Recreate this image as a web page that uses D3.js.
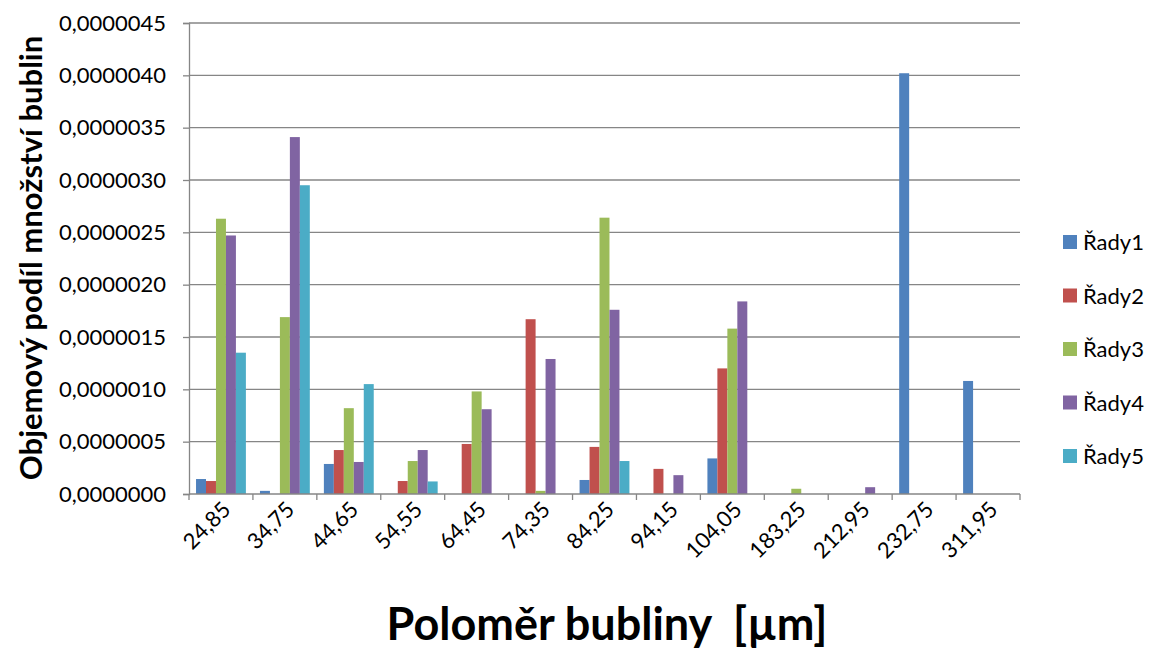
<!DOCTYPE html>
<html>
<head>
<meta charset="utf-8">
<script src="https://cdn.jsdelivr.net/npm/d3@7"></script>
<style>
  body { margin: 0; background: #fff; }
  text { font-family: Lato, "Open Sans", sans-serif; fill: #000; white-space: pre; }
</style>
</head>
<body>
<div id="chart"></div>
<script>
let categories = ["24,85", "34,75", "44,65", "54,55", "64,45", "74,35", "84,25", "94,15", "104,05", "183,25", "212,95", "232,75", "311,95"];
let seriesNames = ["Řady1", "Řady2", "Řady3", "Řady4", "Řady5"];
let rady1 = [0.143, 0.03, 0.287, 0, 0, 0, 0.134, 0, 0.34, 0, 0, 4.02, 1.08];
let rady2 = [0.124, 0, 0.42, 0.124, 0.478, 1.67, 0.45, 0.24, 1.2, 0, 0, 0, 0];
let rady3 = [2.63, 1.69, 0.82, 0.315, 0.98, 0.03, 2.64, 0, 1.58, 0.05, 0, 0, 0];
let rady4 = [2.47, 3.41, 0.306, 0.42, 0.81, 1.29, 1.76, 0.18, 1.84, 0, 0.065, 0, 0];
let rady5 = [1.35, 2.95, 1.05, 0.12, 0, 0, 0.315, 0, 0, 0, 0, 0, 0];
let yTicks = [0, 0.5, 1, 1.5, 2, 2.5, 3, 3.5, 4, 4.5];

let colors = ["#4f81bd", "#c0504d", "#9bbb59", "#8064a2", "#4bacc6"];
let allSeries = [rady1, rady2, rady3, rady4, rady5];

let width = 1159,
    height = 650;
let margin = {left: 189, right: 139, top: 23, bottom: 156};

let svg = d3.select("#chart")
    .append("svg")
    .attr("width", width)
    .attr("height", height);

let x0 = d3.scaleBand()
    .domain(categories)
    .range([margin.left, width - margin.right])
    .paddingInner(0.22)
    .paddingOuter(0.11);

let x1 = d3.scaleBand()
    .domain(seriesNames)
    .range([0, x0.bandwidth()]);

let y = d3.scaleLinear()
    .domain([0, 4.5])
    .range([height - margin.bottom, margin.top]);

// gridlines
svg.append("g")
    .selectAll("line")
    .data(yTicks.slice(1))
    .enter()
    .append("line")
    .attr("x1", margin.left)
    .attr("x2", width - margin.right)
    .attr("y1", d => y(d))
    .attr("y2", d => y(d))
    .style("stroke", "#868686")
    .style("stroke-width", 1.3);

// bars
let groups = svg.append("g")
    .selectAll("g")
    .data(categories)
    .enter()
    .append("g")
    .attr("transform", d => "translate(" + x0(d) + ",0)");

groups.selectAll("rect")
    .data((d, i) => seriesNames.map((s, j) => ({s: s, v: allSeries[j][i], c: colors[j]})))
    .enter()
    .append("rect")
    .attr("x", d => x1(d.s))
    .attr("width", x1.bandwidth())
    .attr("y", d => y(d.v))
    .attr("height", d => y(0) - y(d.v))
    .style("fill", d => d.c);

// y axis
let yAxis = svg.append("g")
    .attr("transform", "translate(" + margin.left + ",0)")
    .call(d3.axisLeft(y)
        .tickValues(yTicks)
        .tickSize(6)
        .tickPadding(17)
        .tickFormat(d => d3.format(".7f")(d / 1e6).replace(".", ",")));
yAxis.selectAll("line, path").style("stroke", "#868686").style("stroke-width", 1.3);
yAxis.selectAll("text").style("font-size", "22px").style("font-family", "Lato, sans-serif").style("fill", "#000");

// x axis
let xBase = y(0);
let xg = svg.append("g");
xg.append("line")
    .attr("x1", margin.left)
    .attr("x2", width - margin.right)
    .attr("y1", xBase)
    .attr("y2", xBase)
    .style("stroke", "#868686")
    .style("stroke-width", 1.3);
xg.selectAll(".tick")
    .data(d3.range(categories.length + 1))
    .enter()
    .append("line")
    .attr("x1", i => margin.left + i * (width - margin.left - margin.right) / categories.length)
    .attr("x2", i => margin.left + i * (width - margin.left - margin.right) / categories.length)
    .attr("y1", xBase)
    .attr("y2", xBase + 6)
    .style("stroke", "#868686")
    .style("stroke-width", 1.3);

xg.selectAll("text")
    .data(categories)
    .enter()
    .append("text")
    .attr("text-anchor", "end")
    .attr("transform", d => "translate(" + (x0(d) + x0.bandwidth() / 2 + 11) + "," + (xBase + 17) + ") rotate(-45)")
    .style("font-size", "22px")
    .text(d => d);

// legend
let legend = svg.append("g")
    .selectAll("g")
    .data(seriesNames)
    .enter()
    .append("g")
    .attr("transform", (d, i) => "translate(1063," + (242 + i * 53.5) + ")");
legend.append("rect")
    .attr("x", 0)
    .attr("y", -7)
    .attr("width", 14)
    .attr("height", 14)
    .style("fill", (d, i) => colors[i]);
legend.append("text")
    .attr("x", 20)
    .attr("y", 8)
    .style("font-size", "22px")
    .text(d => d);

// axis titles
svg.append("text")
    .attr("text-anchor", "middle")
    .attr("x", 607)
    .attr("y", 640)
    .style("font-size", "45px")
    .style("font-weight", "bold")
    .text("Poloměr bubliny  [µm]");

svg.append("text")
    .attr("text-anchor", "middle")
    .attr("transform", "translate(42,258) rotate(-90)")
    .style("font-size", "31px")
    .style("font-weight", "bold")
    .text("Objemový podíl množství bublin");
</script>
</body>
</html>
